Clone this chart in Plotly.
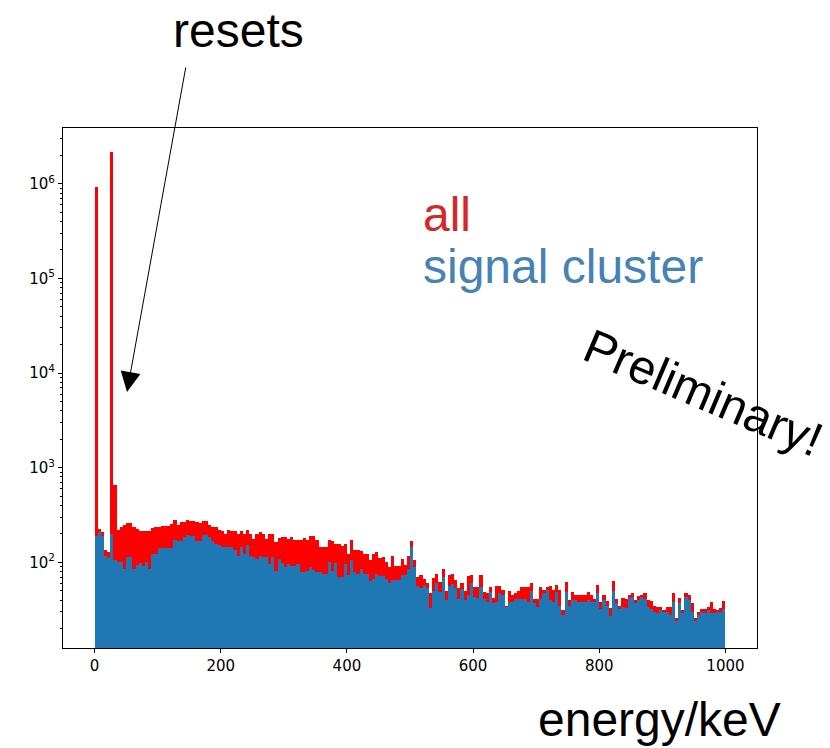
import plotly.graph_objects as go

# ---- data (200 bins of 5 keV from 0 to 1000 keV) ----
bin_width = 5
bin_start = 0
all_counts = [
    930000, 225, 210, 134, 128, 2190000, 650, 222, 235, 251,
    259, 259, 239, 226, 217, 213, 213, 213, 232, 235,
    239, 245, 245, 245, 255, 277, 251, 266, 266, 277,
    272, 272, 266, 259, 272, 272, 251, 235, 235, 221,
    217, 200, 221, 213, 213, 200, 213, 200, 221, 200,
    178, 200, 209, 200, 178, 200, 200, 164, 182, 185,
    185, 178, 185, 171, 174, 174, 182, 171, 188, 188,
    171, 145, 145, 145, 174, 168, 157, 157, 150, 157,
    123, 174, 136, 134, 132, 123, 123, 105, 123, 128,
    112, 114, 101, 89, 116, 91, 91, 109, 93, 116,
    168, 107, 70, 73, 66, 60, 47, 69, 76, 62,
    86, 50, 73, 75, 65, 53, 61, 50, 72, 73,
    55, 55, 73, 49, 47, 55, 42, 56, 56, 51,
    35, 50, 45, 47, 50, 55, 55, 55, 61, 41,
    41, 55, 51, 55, 56, 51, 57, 51, 31, 62,
    40, 49, 45, 45, 45, 45, 49, 45, 41, 57,
    38, 45, 39, 33, 63, 41, 35, 42, 41, 45,
    47, 40, 44, 45, 47, 40, 39, 35, 34, 34,
    31, 34, 34, 47, 26, 42, 31, 47, 45, 37,
    26, 30, 32, 32, 34, 38, 32, 31, 33, 39,
]
signal_counts = [
    192, 207, 190, 118, 110, 200, 107, 100, 100, 86,
    113, 113, 86, 93, 98, 91, 102, 86, 123, 123,
    143, 143, 143, 143, 143, 174, 168, 168, 185, 196,
    188, 188, 168, 168, 196, 196, 185, 168, 155, 151,
    145, 145, 147, 145, 134, 118, 145, 123, 151, 118,
    114, 109, 116, 114, 114, 95, 114, 82, 109, 98,
    89, 95, 91, 91, 97, 79, 79, 82, 89, 84,
    79, 79, 75, 75, 101, 82, 98, 70, 70, 97,
    73, 107, 79, 76, 86, 76, 75, 64, 66, 75,
    71, 71, 67, 60, 65, 65, 65, 73, 73, 86,
    145, 89, 56, 54, 57, 53, 33, 50, 60, 49,
    70, 40, 56, 59, 54, 41, 52, 40, 45, 60,
    43, 42, 55, 41, 38, 49, 37, 38, 47, 45,
    34, 38, 38, 41, 41, 41, 41, 38, 50, 37,
    34, 41, 47, 51, 40, 38, 49, 35, 28, 49,
    35, 40, 40, 38, 38, 38, 40, 38, 38, 48,
    32, 40, 35, 27, 50, 37, 32, 34, 33, 42,
    43, 37, 40, 43, 41, 34, 32, 30, 29, 31,
    30, 30, 28, 38, 24, 37, 29, 43, 40, 30,
    24, 28, 30, 29.5, 31, 29.5, 29, 30, 30, 32,
]
x_ticks = [0, 200, 400, 600, 800, 1000]
y_ticks = [100, 1000, 10000, 100000, 1000000]
y_ticklabels = ["10<sup>2</sup>", "10<sup>3</sup>", "10<sup>4</sup>",
                "10<sup>5</sup>", "10<sup>6</sup>"]

centers = [bin_start + bin_width * (i + 0.5) for i in range(len(all_counts))]
minor_vals = [m * 10 ** e for e in range(1, 7) for m in range(2, 10)]

fig = go.Figure()
fig.add_trace(go.Bar(x=centers, y=all_counts, width=bin_width,
                     marker=dict(color="#ff0000", line=dict(width=0)),
                     name="all", showlegend=False))
fig.add_trace(go.Bar(x=centers, y=signal_counts, width=bin_width,
                     marker=dict(color="#1f77b4", line=dict(width=0)),
                     name="signal cluster", showlegend=False))

W, H = 830, 748
L, R, T, B = 63, 757, 128, 648


def px(x):
    return (x - L) / (R - L)


def py(y):
    return (B - y) / (B - T)


big = dict(family="Liberation Sans, Arial, sans-serif", size=48)

annotations = [
    dict(text="resets", x=px(238), y=py(30), xref="paper", yref="paper",
         showarrow=False, font=dict(color="black", **big),
         xanchor="center", yanchor="middle"),
    dict(text="all", x=px(421), y=py(214), xref="paper", yref="paper",
         showarrow=False, font=dict(color="#d62728", **big),
         xanchor="left", yanchor="middle"),
    dict(text="signal cluster", x=px(421), y=py(266), xref="paper", yref="paper",
         showarrow=False, font=dict(color="#4682b4", **big),
         xanchor="left", yanchor="middle"),
    dict(text="Preliminary!", x=px(703), y=py(392), xref="paper", yref="paper",
         showarrow=False, font=dict(color="black", **big), textangle=23,
         xanchor="center", yanchor="middle"),
    dict(text="energy/keV", x=px(659), y=py(719), xref="paper", yref="paper",
         showarrow=False, font=dict(color="black", **big),
         xanchor="center", yanchor="middle"),
    dict(text="", x=px(127), y=py(392), xref="paper", yref="paper",
         showarrow=True, ax=59, ay=-326, axref="pixel", ayref="pixel",
         arrowhead=2, arrowsize=4, arrowwidth=1, arrowcolor="black"),
]

fig.update_layout(
    width=W, height=H,
    margin=dict(l=L, r=W - R, t=T, b=H - B, pad=0),
    paper_bgcolor="white", plot_bgcolor="white",
    barmode="overlay", bargap=0,
    annotations=annotations,
    showlegend=False,
)
fig.update_xaxes(
    range=[-50, 1050], tickvals=x_ticks, ticks="outside", ticklen=4,
    tickcolor="black", showline=True, linecolor="black", linewidth=1,
    mirror=True, showgrid=False, zeroline=False,
    tickfont=dict(family="DejaVu Sans", size=15, color="black"),
)
fig.update_yaxes(
    type="log", range=[1.095, 6.59], tickvals=y_ticks, ticktext=y_ticklabels,
    ticks="outside", ticklen=4, tickcolor="black",
    minor=dict(ticks="outside", ticklen=2, tickcolor="black",
               tickvals=minor_vals, showgrid=False),
    showline=True, linecolor="black", linewidth=1, mirror=True,
    showgrid=False, zeroline=False,
    tickfont=dict(family="DejaVu Sans", size=15, color="black"),
)

fig.write_html("out.html")
